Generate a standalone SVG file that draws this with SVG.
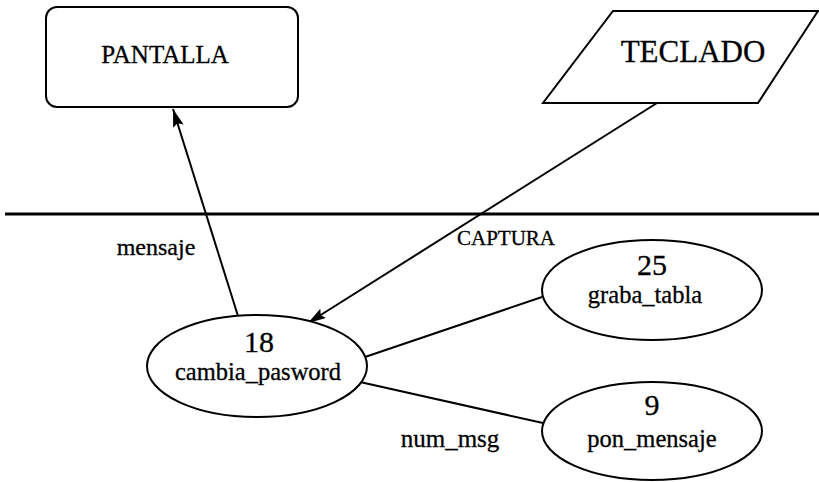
<svg xmlns="http://www.w3.org/2000/svg" width="819" height="482" viewBox="0 0 819 482">
<style>
.s{fill:#fff;stroke:#000;stroke-width:2}
.t{font-family:"Liberation Serif","Times New Roman",serif;fill:#000;text-anchor:middle;stroke:#000;stroke-width:0.3}
.c{stroke:#000;stroke-width:2;fill:none}
</style>
<defs>
<marker id="ah" viewBox="0 0 18 11" refX="18" refY="5.5" markerWidth="18" markerHeight="11" markerUnits="userSpaceOnUse" orient="auto">
<path d="M0,0 L18,5.5 L0,11 L3,5.5 Z" fill="#000"/>
</marker>
</defs>
<rect width="819" height="482" fill="#fff"/>
<line x1="5" y1="214" x2="819" y2="214" stroke="#000" stroke-width="3"/>
<g id="connectors">
<line class="c" x1="238" y1="316" x2="173" y2="109" marker-end="url(#ah)"/>
<line class="c" x1="657" y1="103" x2="308" y2="323" marker-end="url(#ah)"/>
<line class="c" x1="365" y1="357" x2="542" y2="297"/>
<line class="c" x1="360" y1="382" x2="543" y2="423"/>
<text class="t" x="156" y="255" font-size="24">mensaje</text>
<text class="t" x="506" y="245" font-size="21">CAPTURA</text>
<text class="t" x="450" y="447" font-size="25">num_msg</text>
</g>
<g id="pantalla">
<rect class="s" x="46" y="7" width="252" height="100" rx="11"/>
<text class="t" x="165" y="63" font-size="25">PANTALLA</text>
</g>
<g id="teclado">
<path class="s" d="M613,11 L818,11 L758,103 L543,103 Z"/>
<text class="t" x="693" y="62" font-size="31">TECLADO</text>
</g>
<g id="p18">
<ellipse class="s" cx="257" cy="366" rx="110" ry="51"/>
<text class="t" x="259" y="352" font-size="30">18</text>
<text class="t" x="258" y="380" font-size="24.5">cambia_pasword</text>
</g>
<g id="p25">
<ellipse class="s" cx="652" cy="290" rx="110" ry="50"/>
<text class="t" x="652" y="275" font-size="30">25</text>
<text class="t" x="645" y="303" font-size="24.5">graba_tabla</text>
</g>
<g id="p9">
<ellipse class="s" cx="652" cy="431" rx="110" ry="49"/>
<text class="t" x="652" y="415" font-size="30">9</text>
<text class="t" x="652" y="447" font-size="24.5">pon_mensaje</text>
</g>
</svg>
